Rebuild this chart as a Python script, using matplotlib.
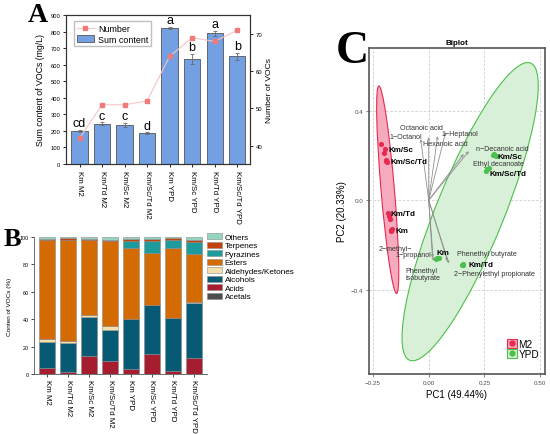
import numpy as np
import matplotlib
matplotlib.use("Agg")
import matplotlib.pyplot as plt
from matplotlib.patches import Ellipse, Patch
from matplotlib.lines import Line2D

plt.rcParams['font.family'] = ['Liberation Sans', 'DejaVu Sans']
plt.rcParams['axes.unicode_minus'] = True

# ---------------- Panel A data ----------------
groups = ["Km M2", "Km/Td M2", "Km/Sc M2", "Km/Sc/Td M2",
          "Km YPD", "Km/Sc YPD", "Km/Td YPD", "Km/Sc/Td YPD"]
sum_content = [200, 243, 238, 188, 822, 636, 790, 650]
sum_err = [5, 8, 12, 4, 8, 30, 15, 22]
sig_letters = ["cd", "c", "c", "d", "a", "b", "a", "b"]
voc_number = [42, 51, 51, 52, 64, 69, 68, 71]

# ---------------- Panel B data (% of VOCs) ----------------
categories = ["Acetals", "Acids", "Alcohols", "Aldehydes/Ketones",
              "Esters", "Pyrazines", "Terpenes", "Others"]
acetals = [0.2, 0.2, 0.2, 0.2, 0.2, 0.2, 0.2, 0.2]
acids = [4.5, 1.4, 12.8, 9.6, 3.6, 14.2, 1.8, 11.5]
alcohols = [19.0, 21.0, 28.5, 22.4, 36.3, 36.0, 39.0, 40.3]
aldehydes = [1.6, 1.2, 1.9, 2.5, 0.3, 0.3, 0.2, 0.2]
esters = [72.3, 74.1, 54.2, 62.3, 51.3, 37.3, 50.5, 35.4]
pyrazines = [0.1, 0.1, 0.1, 0.1, 5.6, 9.0, 6.1, 8.7]
terpenes = [0.6, 1.0, 0.9, 0.8, 1.0, 1.3, 1.4, 1.5]
others = [1.7, 1.0, 1.4, 2.1, 1.7, 1.7, 0.8, 2.2]
cat_colors = ["#4d4d4d", "#a51d2f", "#075a73", "#f2dfae",
              "#d46a02", "#1d9a9b", "#c2420c", "#93d5bf"]

# ---------------- Panel C data (PCA biplot) ----------------
sample_names = ["Km/Sc", "Km/Sc/Td", "Km/Td", "Km"]
m2_pc1 = [[-0.216, -0.198, -0.202], [-0.193, -0.185, -0.190],
          [-0.183, -0.174, -0.178], [-0.168, -0.165, -0.170]]
m2_pc2 = [[0.250, 0.231, 0.213], [0.176, 0.171, 0.180],
          [-0.058, -0.082, -0.070], [-0.133, -0.130, -0.136]]
ypd_pc1 = [[0.294, 0.301, 0.290], [0.263, 0.256, 0.270],
           [0.156, 0.148, 0.152], [0.031, 0.046, 0.036]]
ypd_pc2 = [[0.206, 0.198, 0.200], [0.138, 0.131, 0.145],
           [-0.286, -0.290, -0.288], [-0.264, -0.257, -0.260]]
m2_label_xy = [(-0.180, 0.228), (-0.171, 0.174), (-0.171, -0.058), (-0.151, -0.133)]
ypd_label_xy = [(0.310, 0.197), (0.274, 0.121), (0.180, -0.286), (0.036, -0.232)]

var_names = ["1\u2212Octanol", "Octanoic acid", "Hexanoic acid", "1\u2212Heptanol",
             "n\u2212Decanoic acid", "Ethyl decanoate", "2\u2212methyl\u22121\u2212propanol",
             "Phenethyl isobutyrate", "Phenethyl butyrate", "2\u2212Phenylethyl propionate"]
load_pc1 = [-0.036, 0.000, 0.040, 0.076, 0.180, 0.157, 0.017, 0.021, 0.084, 0.090]
load_pc2 = [0.273, 0.282, 0.286, 0.304, 0.219, 0.206, -0.256, -0.271, -0.271, -0.282]

# ---------------- Figure ----------------
fig = plt.figure(figsize=(5.5, 4.35), dpi=100)
W, H = 550.0, 435.0

def pos(x0, y0, x1, y1):
    return [x0 / W, 1 - y1 / H, (x1 - x0) / W, (y1 - y0) / H]

# ===== Panel A =====
axA = fig.add_axes(pos(66, 16, 250, 165))
xa = np.arange(len(groups))
axA.bar(xa, sum_content, width=0.72, color="#72a0e3", edgecolor="#555555",
        linewidth=0.6, zorder=2)
axA.errorbar(xa, sum_content, yerr=sum_err, fmt="none", ecolor="#6a6a6a",
             elinewidth=0.6, capsize=1.5, capthick=0.6, zorder=3)
for xi, v, e, t in zip(xa, sum_content, sum_err, sig_letters):
    axA.text(xi, v + e + 4, t, ha="center", va="bottom", fontsize=9)
axA.set_xlim(-0.6, 7.57)
axA.set_ylim(0, 900)
axA.set_yticks(range(0, 901, 100))
axA.set_xticks(xa)
axA.set_xticklabels(groups, rotation=-90, ha="center", va="top", fontsize=5.7)
axA.tick_params(axis="y", labelsize=4.2, length=2.5, width=0.6, pad=1.5)
axA.tick_params(axis="x", length=2.5, width=0.6, pad=1.5)
axA.set_ylabel("Sum content of VOCs (mg/L)", fontsize=6.3, labelpad=4)
for s in axA.spines.values():
    s.set_linewidth(0.8)
    s.set_color("#333333")

axA2 = axA.twinx()
axA2.plot(xa, voc_number, color="#f6c4c4", lw=0.8, marker="s", markersize=3,
          markerfacecolor="#f07a7a", markeredgecolor="#f07a7a", zorder=4)
axA2.set_ylim(35.1, 75.1)
axA2.set_yticks([40, 50, 60, 70])
axA2.tick_params(axis="y", labelsize=4.3, length=2.5, width=0.6, pad=1.5)
axA2.set_ylabel("Number of VOCs", fontsize=6.1, labelpad=3)
for s in axA2.spines.values():
    s.set_linewidth(0.8)
    s.set_color("#333333")
hA = [Line2D([], [], color="#f6c4c4", lw=0.8, marker="s", markersize=3,
             markerfacecolor="#f07a7a", markeredgecolor="#f07a7a"),
      Patch(facecolor="#72a0e3", edgecolor="#555555", linewidth=0.6)]
axA2.legend(hA, ["Number", "Sum content"], loc="upper left",
            bbox_to_anchor=(0.043, 0.958), fontsize=6.4, frameon=True,
            fancybox=False, edgecolor="#b0b0b0", borderpad=0.3,
            handlelength=2.0, handleheight=0.9, labelspacing=0.2,
            handletextpad=0.4, borderaxespad=0)

# ===== Panel B =====
axB = fig.add_axes(pos(34, 238, 207, 375))
xb = np.arange(len(groups))
series = [acetals, acids, alcohols, aldehydes, esters, pyrazines, terpenes, others]
bottom = np.zeros(len(groups))
bar_handles = []
for vals, col, name in zip(series, cat_colors, categories):
    vals = np.array(vals)
    b = axB.bar(xb, vals, bottom=bottom, width=0.8, color=col,
                edgecolor="#8a8a8a", linewidth=0.4, label=name)
    bar_handles.append(b)
    bottom += vals
axB.set_xlim(-0.62, 7.62)
axB.set_ylim(0, 100)
axB.set_yticks(range(0, 101, 20))
axB.set_xticks(xb)
axB.set_xticklabels(groups, rotation=-90, ha="center", va="top", fontsize=5.7)
axB.tick_params(axis="y", labelsize=3.9, length=2, width=0.5, pad=1.5)
axB.tick_params(axis="x", length=2, width=0.5, pad=1.5)
axB.spines["top"].set_visible(False)
axB.spines["right"].set_visible(False)
for s in ["left", "bottom"]:
    axB.spines[s].set_linewidth(0.6)
    axB.spines[s].set_color("#555555")
axB.set_ylabel("Conten of VOCs (%)", fontsize=4.6, labelpad=6)
axB.legend(bar_handles[::-1], categories[::-1], loc="upper left",
           bbox_to_anchor=(207 / W, 1 - 234 / H), bbox_transform=fig.transFigure,
           fontsize=5.9, frameon=False, borderpad=0, borderaxespad=0,
           handlelength=1.85, handleheight=0.75, labelspacing=0.08,
           handletextpad=0.3)

# ===== Panel C =====
axC = fig.add_axes(pos(369, 49, 545, 375))
axC.set_xlim(-0.268, 0.522)
axC.set_ylim(-0.776, 0.680)
red = "#e8294f"
green = "#4cbf4c"
axC.add_patch(Ellipse((0.186, -0.051), width=2 * 0.717, height=2 * 0.152, angle=67.75,
                      facecolor="#d8efd8", edgecolor=green, lw=0.8, zorder=1))
axC.add_patch(Ellipse((-0.184, 0.047), width=2 * 0.465, height=2 * 0.030, angle=94.9,
                      facecolor="#f5aabd", edgecolor=red, lw=0.8, zorder=1))
for xs in [-0.25, 0, 0.25, 0.5]:
    axC.axvline(xs, color="#cccccc", lw=0.6, ls=(0, (3, 2)), zorder=0.5)
for ys in [-0.4, 0, 0.4]:
    axC.axhline(ys, color="#cccccc", lw=0.6, ls=(0, (3, 2)), zorder=0.5)
for lx, ly in zip(load_pc1, load_pc2):
    axC.annotate("", xy=(lx, ly), xytext=(0, 0),
                 arrowprops=dict(arrowstyle="->", color="#8f8f8f", lw=0.6,
                                 mutation_scale=4, shrinkA=0, shrinkB=0), zorder=2)
vt = dict(fontsize=5.1, color="#333333", zorder=5)
axC.text(-0.105, 0.286, var_names[0], ha="center", va="center", **vt)
axC.text(-0.031, 0.326, var_names[1], ha="center", va="center", **vt)
axC.text(0.074, 0.255, var_names[2], ha="center", va="center", **vt)
axC.text(0.139, 0.297, var_names[3], ha="center", va="center", **vt)
axC.text(0.330, 0.231, var_names[4], ha="center", va="center", **vt)
axC.text(0.312, 0.164, var_names[5], ha="center", va="center", **vt)
axC.text(-0.148, -0.216, "2\u2212methyl\u2212", ha="center", va="center", **vt)
axC.text(-0.067, -0.242, "1\u2212propanol", ha="center", va="center", **vt)
axC.text(-0.103, -0.331, "Phenethyl\nisobutyrate", ha="left", va="center",
         linespacing=1.0, **vt)
axC.text(0.262, -0.238, var_names[8], ha="center", va="center", **vt)
axC.text(0.296, -0.326, var_names[9], ha="center", va="center", **vt)

for i in range(4):
    axC.scatter(m2_pc1[i], m2_pc2[i], s=14, color=red, zorder=4, linewidths=0)
    axC.scatter(ypd_pc1[i], ypd_pc2[i], s=14, color=green, zorder=4, linewidths=0)
pt = dict(fontsize=5.8, fontweight="bold", color="black", ha="left", va="center", zorder=6)
for name, (lx, ly) in zip(sample_names, m2_label_xy):
    axC.text(lx, ly, name, **pt)
for name, (lx, ly) in zip(sample_names, ypd_label_xy):
    axC.text(lx, ly, name, **pt)

axC.set_xticks([-0.25, 0, 0.25, 0.5])
axC.set_xticklabels(["\u22120.25", "0.00", "0.25", "0.50"])
axC.set_yticks([-0.4, 0, 0.4])
axC.set_yticklabels(["\u22120.4", "0.0", "0.4"])
axC.tick_params(labelsize=4.5, labelcolor="#4d4d4d", length=2, width=0.5,
                color="#555555", pad=2)
for s in axC.spines.values():
    s.set_linewidth(1.2)
    s.set_color("#555555")
axC.set_xlabel("PC1 (49.44%)", fontsize=7, labelpad=3)
axC.set_ylabel("PC2 (20.33%)", fontsize=7, labelpad=3)
axC.set_title("Biplot", fontsize=5.8, fontweight="bold", pad=3)
hC = [(Patch(facecolor="#f5aabd", edgecolor=red, lw=0.8),
       Line2D([], [], marker="o", color=red, ls="", markersize=3.5)),
      (Patch(facecolor="#d8efd8", edgecolor=green, lw=0.8),
       Line2D([], [], marker="o", color=green, ls="", markersize=3.5))]
axC.legend(hC, ["M2", "YPD"], loc="upper left", bbox_to_anchor=(0.784, 0.107),
           fontsize=7.2, frameon=False, borderpad=0, borderaxespad=0,
           handlelength=1.0, handleheight=1.0, labelspacing=0.0,
           handletextpad=0.15)

# panel letters
lf = dict(family=["Liberation Serif", "DejaVu Serif"], fontweight="bold",
          ha="center", va="center")
fig.text(37.5 / W, 1 - 15.5 / H, "A", fontsize=20, **lf)
fig.text(12 / W, 1 - 240 / H, "B", fontsize=19, **lf)
fig.text(352 / W, 1 - 52 / H, "C", fontsize=33, **lf)

fig.savefig("out.png", dpi=100, facecolor="white")
